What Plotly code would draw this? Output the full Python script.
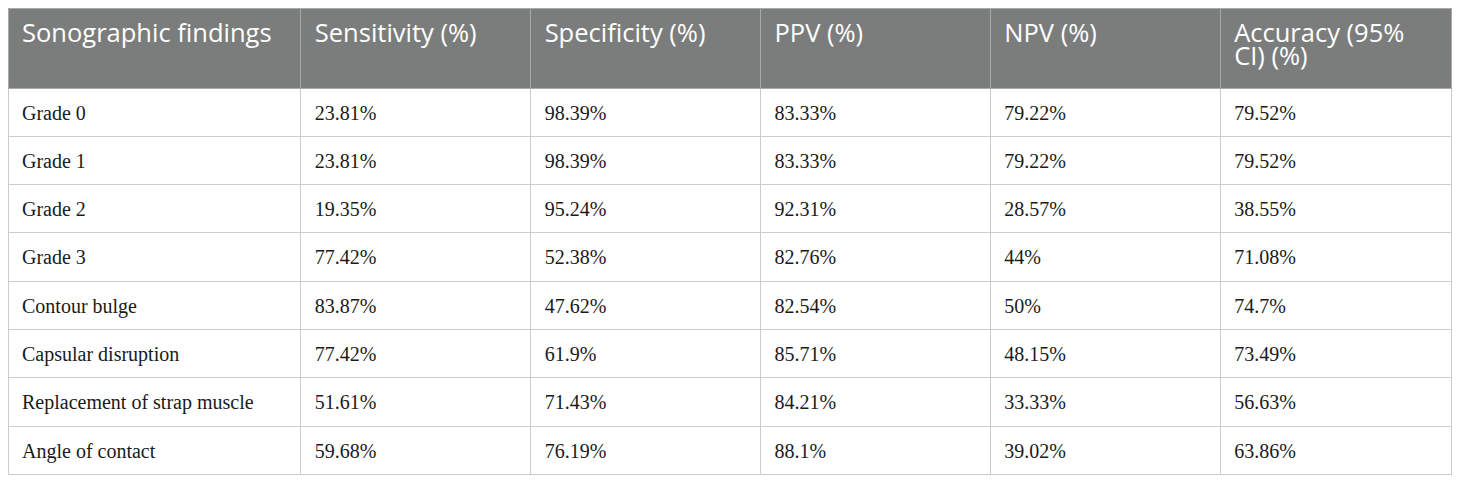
import plotly.graph_objects as go

# table data
headers = ["Sonographic findings", "Sensitivity (%)", "Specificity (%)", "PPV (%)", "NPV (%)", "Accuracy (95% CI) (%)"]
findings = ["Grade 0", "Grade 1", "Grade 2", "Grade 3", "Contour bulge", "Capsular disruption",
            "Replacement of strap muscle", "Angle of contact"]
sensitivity = ["23.81%", "23.81%", "19.35%", "77.42%", "83.87%", "77.42%", "51.61%", "59.68%"]
specificity = ["98.39%", "98.39%", "95.24%", "52.38%", "47.62%", "61.9%", "71.43%", "76.19%"]
ppv = ["83.33%", "83.33%", "92.31%", "82.76%", "82.54%", "85.71%", "84.21%", "88.1%"]
npv = ["79.22%", "79.22%", "28.57%", "44%", "50%", "48.15%", "33.33%", "39.02%"]
accuracy = ["79.52%", "79.52%", "38.55%", "71.08%", "74.7%", "73.49%", "56.63%", "63.86%"]

W, H = 1460, 483
colw = [293, 230, 230, 230, 230, 232]
head_h, row_h = 80, 48.3
nrows = len(findings)
l, r = 0, 10
P = W - l - r
dx = 6 / P
clear = "rgba(0,0,0,0)"

# grid + fills only (no text)
fig = go.Figure()
fig.add_trace(go.Table(
    domain=dict(x=[0, 1 - dx], y=[0, 1]),
    columnwidth=colw,
    header=dict(values=[""] * len(headers), fill_color="#7b7d7c",
                line=dict(color="#a8aaa9", width=1), height=head_h),
    cells=dict(values=[[""] * nrows for _ in headers], fill_color="white",
               line=dict(color="#cccccc", width=1), height=row_h),
))

# text layer, nudged down/right so it sits like the original
head1 = headers[:-1] + [headers[-1][:13]]
fig.add_trace(go.Table(
    domain=dict(x=[dx, 1], y=[0, 1 - 6.5 / H]),
    columnwidth=colw,
    header=dict(values=head1, fill_color=clear, line=dict(color=clear, width=0),
                font=dict(family="Open Sans", size=25.5, color="white"),
                align="left", height=head_h + 2),
    cells=dict(values=[findings, sensitivity, specificity, ppv, npv, accuracy],
               fill_color=clear, line=dict(color=clear, width=0),
               font=dict(family="Liberation Serif", size=20, color="#1a1a1a"),
               align="left", height=row_h),
))
# second line of the last header
x0 = dx + (1 - dx) * sum(colw[:-1]) / sum(colw)
fig.add_trace(go.Table(
    domain=dict(x=[x0, 1], y=[0, 1 - 29.5 / H]),
    header=dict(values=[headers[-1][14:]], fill_color=clear, line=dict(color=clear, width=0),
                font=dict(family="Open Sans", size=25.5, color="white"),
                align="left", height=30),
    cells=dict(values=[[]], fill_color=clear, line=dict(color=clear, width=0)),
))
fig.update_layout(
    width=W, height=H,
    margin=dict(l=l, r=r, t=0, b=0),
    paper_bgcolor="white",
)
fig.write_html("out.html")
